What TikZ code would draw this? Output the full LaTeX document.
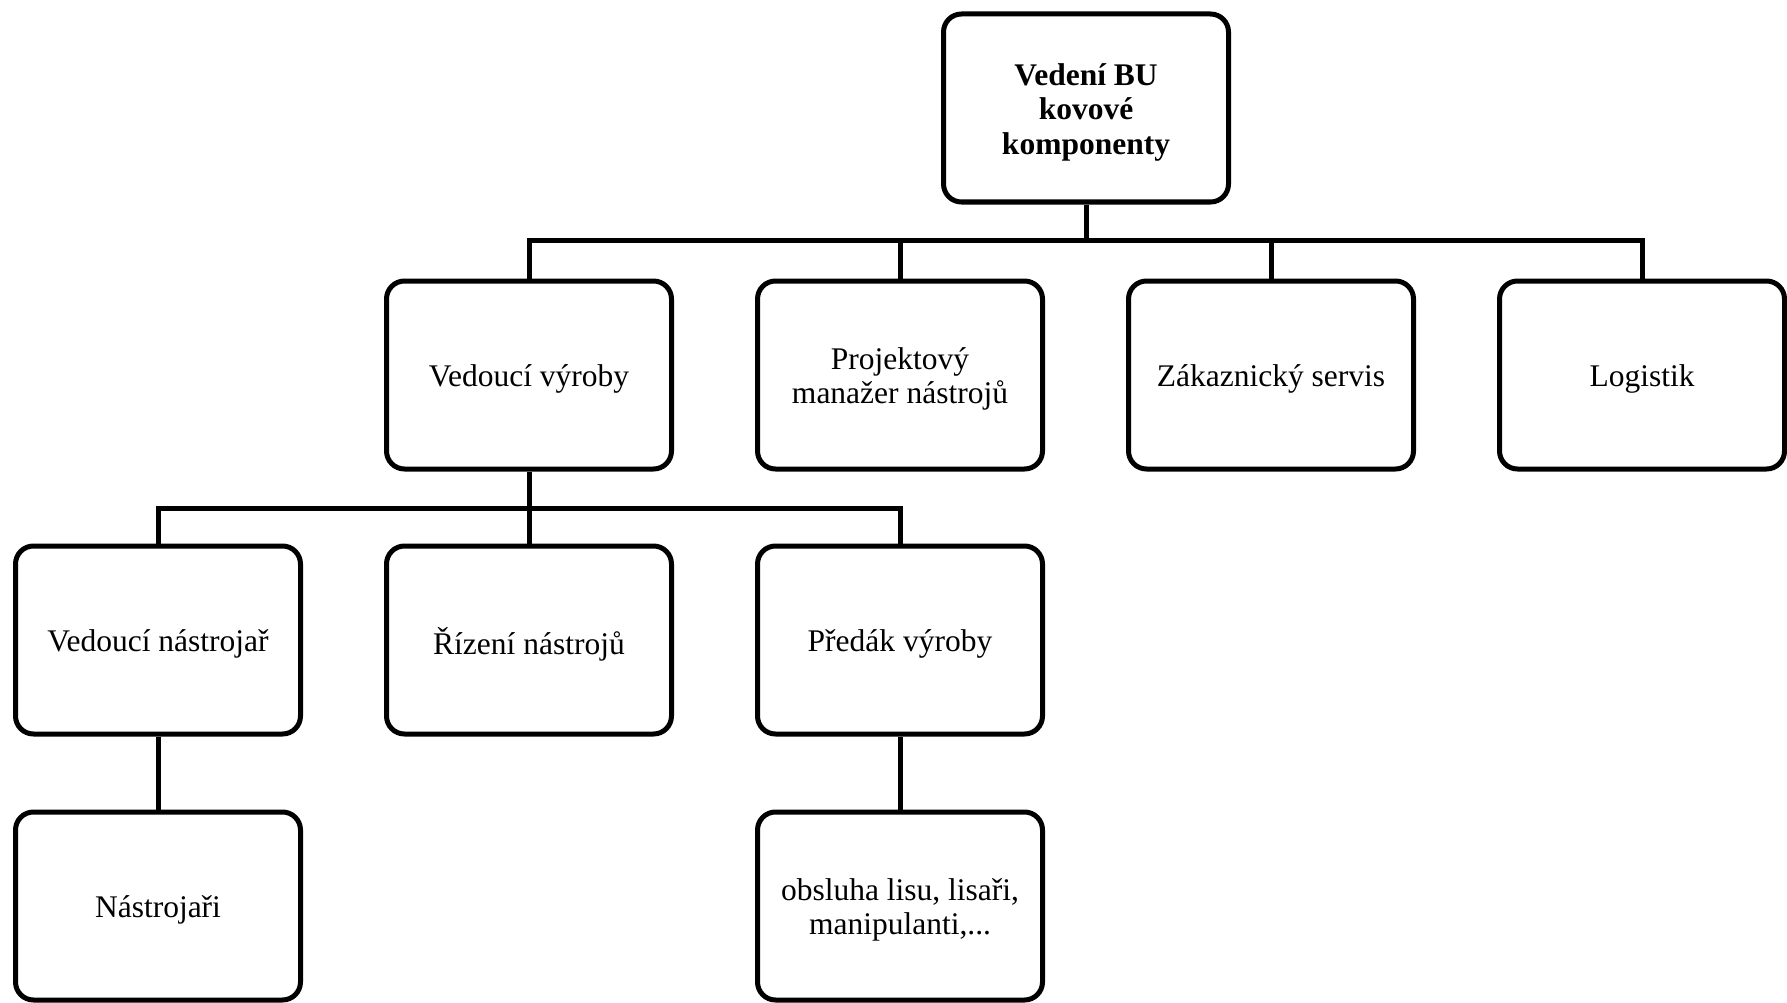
\documentclass[tikz,border=0pt]{standalone}
\usepackage{fontspec}
\setmainfont{Liberation Serif}
\begin{document}
\begin{tikzpicture}[x=1pt,y=-1pt,
  unit/.style={draw, line width=5pt, rounded corners=18pt, minimum width=285pt,
    minimum height=188pt, inner sep=0pt},
  txt/.style={align=center, inner sep=0pt, yshift=-4pt,
    font=\fontsize{31.5pt}{34.5pt}\selectfont},
  link/.style={line width=5pt}]
\useasboundingbox (0,0) rectangle (1787,1003);

% top of the hierarchy
\node[unit, label={[txt, font=\fontsize{31.5pt}{34.5pt}\selectfont\bfseries, name=headT]center:{Vedení BU\\kovové\\komponenty}}] (head) at (1086,108) {};

% second level
\node[unit, label={[txt, name=vyrobaT]center:{Vedoucí výroby}}] (vyroba) at (529,375) {};
\node[unit, label={[txt, name=projektT]center:{Projektový\\manažer nástrojů}}] (projekt) at (900,375) {};
\node[unit, label={[txt, name=servisT]center:{Zákaznický servis}}] (servis) at (1271,375) {};
\node[unit, label={[txt, name=logistT]center:{Logistik}}] (logist) at (1642,375) {};

% third level
\node[unit, label={[txt, name=vnastrT]center:{Vedoucí nástrojař}}] (vnastr) at (158,640) {};
\node[unit, label={[txt, name=rizeniT]center:{Řízení nástrojů}}] (rizeni) at (529,640) {};
\node[unit, label={[txt, name=predakT]center:{Předák výroby}}] (predak) at (900,640) {};

% fourth level
\node[unit, label={[txt, name=nastrT]center:{Nástrojaři}}] (nastr) at (158,906) {};
\node[unit, label={[txt, name=obsluhaT]center:{obsluha lisu, lisaři,\\manipulanti,...}}] (obsluha) at (900,906) {};

% junction points of the buses
\coordinate (busA) at (1086,240);
\coordinate (busB) at (529,508);

\draw[link] (head.south) -- (busA);
\foreach \n in {vyroba,projekt,servis,logist}
  \draw[link] (busA) -| (\n.north);

\draw[link] (vyroba.south) -- (busB);
\foreach \n in {vnastr,rizeni,predak}
  \draw[link] (busB) -| (\n.north);

\draw[link] (vnastr.south) -- (nastr.north);
\draw[link] (predak.south) -- (obsluha.north);
\end{tikzpicture}
\end{document}
